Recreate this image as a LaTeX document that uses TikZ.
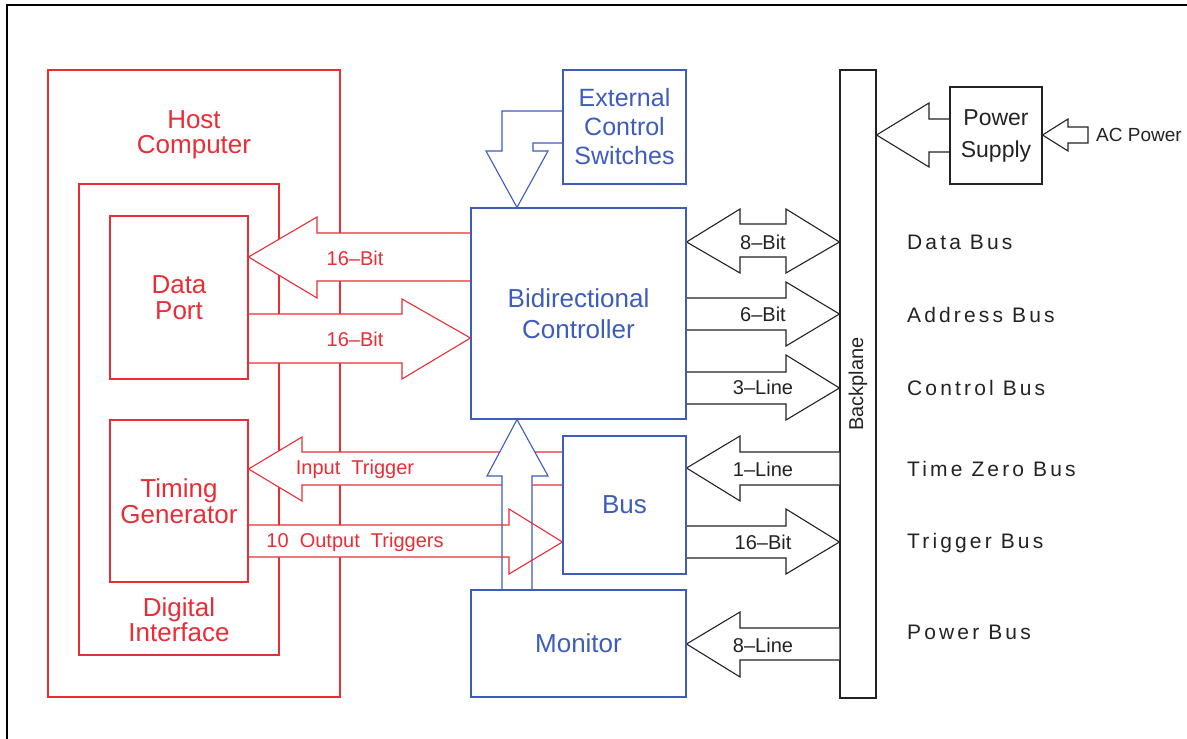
\documentclass[tikz,border=0pt]{standalone}
\usepackage{fontspec}
\setmainfont{Liberation Sans}
\newfontfamily\busfont[LetterSpace=15]{Liberation Sans}
\definecolor{hostred}{RGB}{232,45,55}
\definecolor{ctrlblue}{RGB}{62,92,186}
\definecolor{wirebk}{RGB}{35,35,35}
\pgfdeclarelayer{front}
\pgfsetlayers{main,front}

\begin{document}
\begin{tikzpicture}[x=1pt,y=-1pt,
    redbox/.style={draw=hostred,line width=1.1pt,inner sep=0pt,text=hostred,align=center,font=\fontsize{26}{26}\selectfont},
    bluebox/.style={draw=ctrlblue,line width=1.1pt,inner sep=0pt,text=ctrlblue,align=center,font=\fontsize{26}{31}\selectfont},
    blkbox/.style={draw=wirebk,line width=1.1pt,inner sep=0pt,text=wirebk,align=center,font=\fontsize{23}{32}\selectfont},
    redtxt/.style={text=hostred,align=center,inner sep=0pt,font=\fontsize{26}{25}\selectfont},
    redarrow/.style={draw=hostred,line width=1.1pt,fill=white},
    bluearrow/.style={draw=ctrlblue,line width=1.1pt,fill=white},
    blkarrow/.style={draw=wirebk,line width=1.1pt,fill=white},
    redlbl/.style={text=hostred,inner sep=0pt,font=\fontsize{20}{20}\selectfont},
    blklbl/.style={text=wirebk,inner sep=0pt,font=\fontsize{20}{20}\selectfont},
    buslbl/.style={text=wirebk,inner sep=0pt,anchor=west,font=\fontsize{21}{21}\busfont}]
    \useasboundingbox (0,0) rectangle (1187,739);
    \draw[line width=1.6pt] (7,739) -- (7,5) -- (1187,5);

    \node[redbox, minimum width=292pt, minimum height=627pt] (host) at (194,383.5) {};
    \node[redbox, minimum width=200pt, minimum height=471pt] (digif) at (179,419.5) {};
    \node[blkbox, minimum width=36pt, minimum height=628pt] (bplane) at (858,384) {};
    \node[redtxt] (hostlbl) at (194,135) {Host\\Computer};
    \node[redtxt, font=\fontsize{26}{24}\selectfont] (digiflbl) at (179,620) {Digital\\Interface};
    \node[blklbl, rotate=90] (bplanelbl) at (858,384) {Backplane};

    \begin{pgfonlayer}{front}
        \node[redbox, minimum width=138pt, minimum height=163pt] (dport) at (179,297.5) {Data\\Port};
        \node[redbox, minimum width=138pt, minimum height=162pt] (timing) at (179,501) {Timing\\Generator};
        \node[bluebox, minimum width=215pt, minimum height=211pt] (ctrl) at (578.5,313.5) {Bidirectional\\Controller};
        \node[bluebox, minimum width=123pt, minimum height=114pt, font=\fontsize{25}{29}\selectfont] (ext) at (624.5,127) {External\\Control\\Switches};
        \node[bluebox, minimum width=123pt, minimum height=138pt] (bus) at (624.5,505) {Bus};
        \node[bluebox, minimum width=215pt, minimum height=107pt] (monitor) at (578.5,643.5) {Monitor};
        \node[blkbox, minimum width=92pt, minimum height=97pt] (psu) at (996,135.5) {Power\\Supply};
    \end{pgfonlayer}

    % host side
    \draw[redarrow] (ctrl.west |- 0,233) -- (317,233) -- (317,217) -- (dport.east |- 0,257) -- (317,298) -- (317,281) -- (ctrl.west |- 0,281);
    \draw[redarrow] (dport.east |- 0,314) -- (402,314) -- (402,299) -- (ctrl.west |- 0,338) -- (402,379) -- (402,363) -- (dport.east |- 0,363);
    \draw[redarrow] (bus.west |- 0,452) -- (302,452) -- (302,437) -- (timing.east |- 0,469) -- (302,501) -- (302,485) -- (bus.west |- 0,485);
    \fill[white] (timing.east |- 0,525) -- (509,525) -- (509,509) -- (bus.west |- 0,542) -- (509,574) -- (509,557) -- (timing.east |- 0,557) -- cycle;
    \draw[bluearrow] (502,0 |- monitor.north) -- (502,476) -- (487,476) -- (517,0 |- ctrl.south) -- (548,476) -- (532,476) -- (532,0 |- monitor.north);
    \draw[draw=hostred,line width=1.1pt] (timing.east |- 0,525) -- (509,525) -- (509,509) -- (bus.west |- 0,542) -- (509,574) -- (509,557) -- (timing.east |- 0,557);
    \draw[bluearrow] (ext.west |- 0,111) -- (502,111) -- (502,151) -- (486,151) -- (517,0 |- ctrl.north) -- (548,151) -- (533,151) -- (533,143) -- (ext.west |- 0,143);

    % backplane side
    \draw[blkarrow] (ctrl.east |- 0,242) -- (740,209) -- (740,224) -- (786,224) -- (786,209) -- (bplane.west |- 0,242) -- (786,273) -- (786,257) -- (740,257) -- (740,273) -- cycle;
    \draw[blkarrow] (ctrl.east |- 0,298) -- (786,298) -- (786,282) -- (bplane.west |- 0,314) -- (786,346) -- (786,330) -- (ctrl.east |- 0,330);
    \draw[blkarrow] (ctrl.east |- 0,372) -- (786,372) -- (786,355) -- (bplane.west |- 0,388) -- (786,420) -- (786,404) -- (ctrl.east |- 0,404);
    \draw[blkarrow] (bplane.west |- 0,452) -- (740,452) -- (740,436) -- (bus.east |- 0,468) -- (740,501) -- (740,485) -- (bplane.west |- 0,485);
    \draw[blkarrow] (bus.east |- 0,526) -- (786,526) -- (786,509) -- (bplane.west |- 0,542) -- (786,574) -- (786,558) -- (bus.east |- 0,558);
    \draw[blkarrow] (bplane.west |- 0,628) -- (740,628) -- (740,612) -- (monitor.east |- 0,644) -- (740,677) -- (740,660) -- (bplane.west |- 0,660);
    \draw[blkarrow] (psu.west |- 0,119) -- (929,119) -- (929,103) -- (bplane.east |- 0,135) -- (929,167) -- (929,152) -- (psu.west |- 0,152);
    \draw[blkarrow] (1088,127) -- (1068,127) -- (1068,119) -- (psu.east |- 0,135) -- (1068,151) -- (1068,143) -- (1088,143) -- cycle;

    \node[redlbl] (portin) at (355,258) {16–Bit};
    \node[redlbl] (portout) at (355,339) {16–Bit};
    \node[redlbl] (trigin) at (355,469) {Input\ \ Trigger};
    \node[redlbl] (trigout) at (355,542) {10\ \ Output\ \ Triggers};
    \node[blklbl] (databits) at (763,242) {8–Bit};
    \node[blklbl] (addrbits) at (763,314) {6–Bit};
    \node[blklbl] (ctrllines) at (763,387) {3–Line};
    \node[blklbl] (zeroline) at (763,469) {1–Line};
    \node[blklbl] (trigbits) at (763,542) {16–Bit};
    \node[blklbl] (pwrlines) at (763,645) {8–Line};
    \node[blklbl, anchor=west, font=\fontsize{19}{19}\selectfont] (aclbl) at (1096,135) {AC Power};

    \node[buslbl] (databus) at (907,242) {Data Bus};
    \node[buslbl] (addrbus) at (907,315) {Address Bus};
    \node[buslbl] (ctrlbus) at (907,388) {Control Bus};
    \node[buslbl] (zerobus) at (907,469) {Time Zero Bus};
    \node[buslbl] (trigbus) at (907,543) {Trigger Bus};
    \node[buslbl] (pwrbus) at (907,632) {Power Bus};
\end{tikzpicture}
\end{document}
